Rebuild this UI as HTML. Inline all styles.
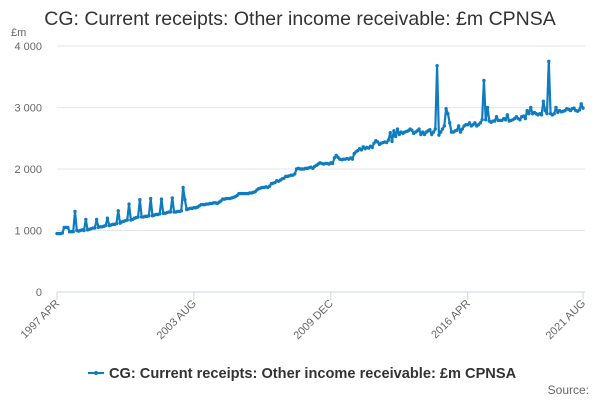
<!DOCTYPE html>
<html><head><meta charset="utf-8"><style>
body{margin:0;background:#fff;font-family:"Liberation Sans",sans-serif;}
svg text{font-family:"Liberation Sans",sans-serif;}
</style></head><body>
<svg id="chart" width="600" height="400" xmlns="http://www.w3.org/2000/svg">
<text x="300" y="25" text-anchor="middle" font-size="19.5" fill="#333">CG: Current receipts: Other income receivable: £m CPNSA</text>
<text x="11" y="36" font-size="11" fill="#666">£m</text>
<g id="grid"></g><g id="xaxis"></g><g id="series"></g>
<g>
<line x1="88" y1="373" x2="104" y2="373" stroke="#0f7cc0" stroke-width="2"/>
<circle cx="96" cy="373" r="2" fill="#0f7cc0"/>
<text x="109" y="378" font-size="14.6" font-weight="bold" fill="#333">CG: Current receipts: Other income receivable: £m CPNSA</text>
</g>
<text x="589" y="394" text-anchor="end" font-size="12" fill="#666">Source:</text>
</svg>
<script>
const values = [
950,950,950,960,1050,1050,1050,980,980,980,1310,1000,
990,1000,1010,1000,1180,1010,1020,1030,1040,1040,1180,1050,
1060,1060,1070,1080,1200,1080,1090,1100,1100,1110,1320,1120,
1140,1150,1160,1170,1430,1170,1180,1200,1210,1220,1500,1220,
1220,1230,1230,1240,1520,1240,1250,1260,1260,1270,1510,1280,
1280,1290,1300,1300,1530,1300,1300,1310,1310,1320,1700,1500,
1340,1350,1360,1360,1370,1370,1380,1400,1420,1420,1420,1430,
1430,1440,1440,1450,1450,1440,1460,1480,1510,1510,1520,1520,
1520,1530,1540,1550,1570,1600,1600,1600,1600,1600,1600,1610,
1610,1620,1630,1660,1680,1690,1700,1700,1710,1700,1720,1760,
1770,1780,1810,1800,1820,1840,1850,1880,1880,1890,1900,1900,
1920,2000,2010,2000,2000,2000,2010,2010,2020,2030,2010,2040,
2060,2080,2100,2090,2080,2090,2090,2080,2100,2090,2180,2220,
2190,2160,2150,2160,2160,2170,2160,2180,2160,2250,2280,2300,
2330,2310,2360,2330,2350,2340,2370,2350,2420,2460,2440,2400,
2420,2430,2440,2430,2470,2590,2450,2620,2530,2650,2560,2600,
2580,2600,2610,2620,2650,2630,2580,2600,2620,2650,2560,2600,
2560,2600,2620,2640,2560,2600,2650,3680,2550,2600,2650,2700,
2980,2900,2750,2600,2600,2620,2630,2700,2600,2650,2700,2720,
2720,2750,2700,2720,2750,2700,2720,2750,2800,3440,2800,3000,
2780,2760,2780,2780,2850,2790,2790,2790,2820,2800,2880,2780,
2790,2800,2820,2850,2820,2800,2850,2860,2820,2950,2900,3000,
2900,2920,2900,2880,2900,2880,3100,2950,2900,3750,2900,2880,
2900,3000,2920,2950,2930,2940,2950,2980,2970,2950,2980,2990,
2950,2940,2960,3060,2990];
const yTicks = [0,1000,2000,3000,4000];
const yTickLabels = ["0","1 000","2 000","3 000","4 000"];
const xTickIdx = [0,76,152,228,292];
const xTickLabels = ["1997 APR","2003 AUG","2009 DEC","2016 APR","2021 AUG"];
const X0=57,X1=583,Y0=292,PX_PER=0.0615;
const NS="http://www.w3.org/2000/svg";
const xs=i=>X0+(X1-X0)*i/(values.length-1);
const ys=v=>Y0-v*PX_PER;
const grid=document.getElementById('grid');
yTicks.forEach((t,k)=>{
  const l=document.createElementNS(NS,'line');
  
  
  l.setAttribute('x1',X0);l.setAttribute('x2',X1+2);
  l.setAttribute('y1',ys(t));l.setAttribute('y2',ys(t));
  l.setAttribute('stroke',t===0?'#ccd6eb':'#e6e6e6');l.setAttribute('stroke-width','1');
  grid.appendChild(l);
  const tx=document.createElementNS(NS,'text');
  
  
  tx.setAttribute('x',42);tx.setAttribute('y',ys(t)+4);
  tx.setAttribute('text-anchor','end');tx.setAttribute('font-size','11');tx.setAttribute('fill','#666');
  tx.textContent=yTickLabels[k];grid.appendChild(tx);
});
const xa=document.getElementById('xaxis');
xTickIdx.forEach((i,k)=>{
  const x=xs(i);
  const l=document.createElementNS(NS,'line');
  
  
  l.setAttribute('x1',x);l.setAttribute('x2',x);l.setAttribute('y1',Y0);l.setAttribute('y2',Y0+8);
  l.setAttribute('stroke','#ccd6eb');xa.appendChild(l);
  const tx=document.createElementNS(NS,'text');
  
  
  tx.setAttribute('x',x+3);tx.setAttribute('y',Y0+12);
  tx.setAttribute('text-anchor','end');tx.setAttribute('font-size','11');tx.setAttribute('fill','#666');
  tx.setAttribute('transform','rotate(-45 '+(x+3)+' '+(Y0+12)+')');
  tx.textContent=xTickLabels[k];xa.appendChild(tx);
});
const s=document.getElementById('series');
const p=document.createElementNS(NS,'path');


p.setAttribute('d',values.map((v,i)=>(i?'L':'M')+xs(i).toFixed(2)+' '+ys(v).toFixed(2)).join(' '));
p.setAttribute('fill','none');p.setAttribute('stroke','#0f7cc0');p.setAttribute('stroke-width','2.2');
p.setAttribute('stroke-linejoin','round');
s.appendChild(p);
values.forEach((v,i)=>{
  const c=document.createElementNS(NS,'circle');
  
  
  c.setAttribute('cx',xs(i));c.setAttribute('cy',ys(v));c.setAttribute('r','1.7');
  c.setAttribute('fill','#0f7cc0');s.appendChild(c);
});
</script>
</body></html>
